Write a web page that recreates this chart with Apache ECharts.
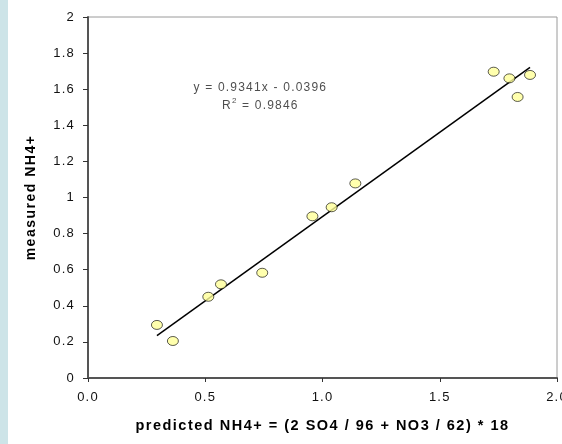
<!DOCTYPE html>
<html>
<head>
<meta charset="utf-8">
<script src="https://cdn.jsdelivr.net/npm/echarts@6/dist/echarts.min.js"></script>
<style>
  html, body { margin: 0; padding: 0; background: #fff; }
  #chart { width: 562px; height: 444px; }
</style>
</head>
<body>
<div id="chart"></div>
<script>
// Predicted vs measured ammonium
var predicted = [0.294, 0.362, 0.513, 0.567, 0.743, 0.957, 1.039, 1.140, 1.730, 1.797, 1.832, 1.885];
var measured  = [0.294, 0.205, 0.450, 0.519, 0.583, 0.896, 0.946, 1.078, 1.697, 1.660, 1.557, 1.679];

// Linear fit reported on the chart
var slope = 0.9341;
var intercept = -0.0396;
var rSquared = 0.9846;

var xTicks = [0, 0.5, 1.0, 1.5, 2.0];
var yTicks = [0, 0.2, 0.4, 0.6, 0.8, 1, 1.2, 1.4, 1.6, 1.8, 2];

// Slightly tracked-out lettering for all canvas text (bold titles a bit wider)
(function () {
  var proto = window.CanvasRenderingContext2D && CanvasRenderingContext2D.prototype;
  if (!proto || !('letterSpacing' in proto)) return;
  function track(ctx) {
    ctx.letterSpacing = /bold/.test(ctx.font) ? '1.5px' : '1.2px';
  }
  ['fillText', 'strokeText', 'measureText'].forEach(function (name) {
    var orig = proto[name];
    proto[name] = function () {
      track(this);
      return orig.apply(this, arguments);
    };
  });
})();

var xMin = Math.min.apply(null, predicted);
var xMax = Math.max.apply(null, predicted);
var fitLine = [
  [xMin, slope * xMin + intercept],
  [xMax, slope * xMax + intercept]
];

var points = predicted.map(function (x, i) { return [x, measured[i]]; });

var chart = echarts.init(document.getElementById('chart'), null, { renderer: 'canvas' });

var FONT = 'Liberation Sans, Arial, sans-serif';

chart.setOption({
  animation: false,
  backgroundColor: '#ffffff',
  grid: {
    left: 88, top: 17, right: 5, bottom: 66,
    containLabel: false,
    outerBoundsMode: 'none',
    show: true, borderColor: '#9a9a9a', borderWidth: 1, backgroundColor: 'transparent'
  },
  graphic: [
    { type: 'rect', left: 0, top: 0, shape: { width: 8, height: 444 }, style: { fill: '#cde4e8' }, silent: true }
  ],
  xAxis: {
    type: 'value', min: xTicks[0], max: xTicks[xTicks.length - 1], interval: 0.5,
    axisLine: { show: true, lineStyle: { color: '#555', width: 2 } },
    axisTick: { show: true, length: 4, lineStyle: { color: '#333', width: 1 } },
    splitLine: { show: false },
    axisLabel: {
      color: '#111', fontFamily: FONT, fontSize: 13, margin: 12,
      formatter: function (v) { return v.toFixed(1); }
    },
    name: 'predicted NH4+ = (2 SO4 / 96 + NO3 / 62) * 18',
    nameLocation: 'middle', nameGap: 40,
    nameTextStyle: { color: '#000', fontFamily: FONT, fontSize: 14.5, fontWeight: 'bold' }
  },
  yAxis: {
    type: 'value', min: yTicks[0], max: yTicks[yTicks.length - 1], interval: 0.2,
    axisLine: { show: true, lineStyle: { color: '#555', width: 2 } },
    axisTick: { show: true, length: 5, lineStyle: { color: '#333', width: 1 } },
    splitLine: { show: false },
    axisLabel: {
      color: '#111', fontFamily: FONT, fontSize: 13, margin: 13,
      formatter: function (v) { return String(parseFloat(v.toFixed(1))); }
    },
    name: 'measured NH4+',
    nameLocation: 'middle', nameGap: 49,
    nameTextStyle: { color: '#000', fontFamily: FONT, fontSize: 14, fontWeight: 'bold' }
  },
  series: [
    {
      type: 'line',
      data: fitLine,
      symbol: 'none',
      lineStyle: { color: '#000', width: 1.5 },
      z: 2,
      silent: true
    },
    {
      type: 'scatter',
      data: points,
      symbol: 'circle',
      symbolSize: [11, 9],
      itemStyle: { color: '#ffff99', borderColor: '#000', borderWidth: 0.8 },
      z: 3
    },
    {
      type: 'scatter',
      data: [[0.735, 1.56]],
      symbolSize: 0,
      silent: true,
      label: {
        show: true,
        position: 'inside',
        align: 'center',
        verticalAlign: 'middle',
        lineHeight: 18,
        fontFamily: FONT,
        fontSize: 12,
        color: '#222',
        formatter: function () {
          return 'y = ' + slope.toFixed(4) + 'x - ' + Math.abs(intercept).toFixed(4) +
                 '\n{r|R}{sup|2}{r| = ' + rSquared.toFixed(4) + '}';
        },
        rich: {
          r: { fontFamily: FONT, fontSize: 12, color: '#222' },
          sup: { fontFamily: FONT, fontSize: 8, color: '#222', verticalAlign: 'top', padding: [0, 0, 6, 0] }
        }
      },
      z: 4
    }
  ]
});
</script>
</body>
</html>
